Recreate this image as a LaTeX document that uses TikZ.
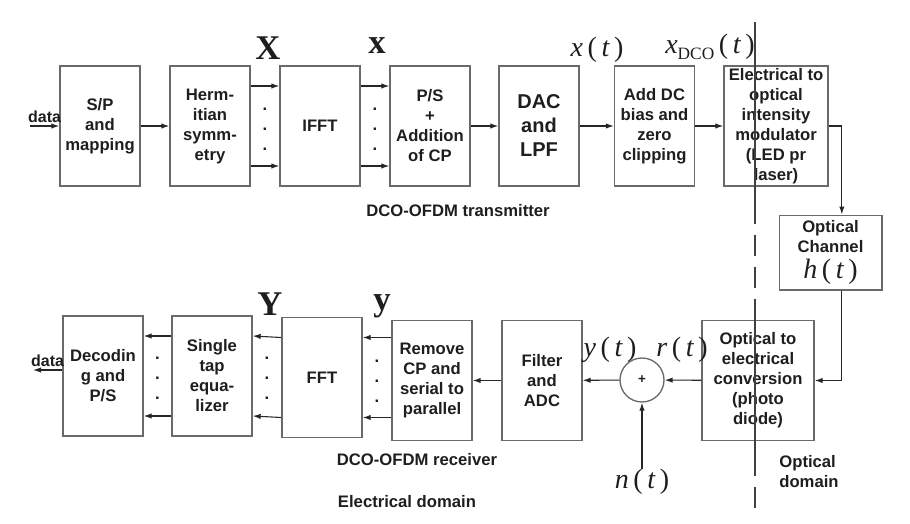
\documentclass[tikz,border=0pt]{standalone}
\usepackage{fontspec}
\setmainfont{Liberation Sans}
\newfontfamily\tnr{Liberation Serif}
\usepackage{tikz}
\usetikzlibrary{positioning,arrows.meta,calc}
\definecolor{borde}{HTML}{6A6A6A}
\definecolor{tinta}{HTML}{1E1E1E}
\newcommand{\sig}[1]{{\itshape #1}\,(\,{\itshape t}\,)}

\begin{document}
\begin{tikzpicture}[
  x=0.75pt, y=-0.75pt,
  text=tinta,
  font=\fontsize{12.5}{15}\selectfont\bfseries,
  blk/.style={draw=borde, line width=1pt, align=center, inner sep=0pt,
              minimum width=60pt, minimum height=90pt},
  arr/.style={-{Latex[length=6pt,width=4pt]}, line width=0.8pt, draw=black!85},
  vec/.style={font=\tnr\bfseries\fontsize{26}{26}\selectfont, inner sep=0pt},
  sigl/.style={font=\tnr\fontsize{21}{21}\selectfont, inner sep=0pt},
  pts/.style={align=center, inner sep=0pt},
  bound/.style={line width=1.2pt, draw=black!75},
  cut/.style={bound, dash pattern=on 16pt off 8pt}
]
  \useasboundingbox (0,0) rectangle (910,524);

  % --- transmitter
  \node[blk] (sp) at (100,126) {S/P\\and\\mapping};
  \node[blk] (herm) at (210,126) {Herm-\\itian\\symm-\\etry};
  \node[blk] (ifft) at (320,126) {IFFT};
  \node[blk] (ps) at (430,126) {P/S\\+\\Addition\\of CP};
  \node[blk, font=\fontsize{15}{18}\selectfont\bfseries] (dac) at (539,126) {DAC\\and\\LPF};
  \node[blk] (dcb) at (654.5,126) {Add DC\\bias and\\zero\\clipping};
  \node[blk, minimum width=78pt] (eo) at (776,126)
        {Electrical to\\optical\\intensity\\modulator\\(LED pr\\laser)};
  \node (txcap) at (458,211) {DCO-OFDM transmitter};

  \coordinate (din) at (30,126);
  \draw[arr] (din) -- (sp.west) node[midway, above=-1pt, font=\fontsize{12}{14}\selectfont\bfseries] {data};
  \draw[arr] (sp) -- (herm);
  \draw[arr] ([yshift=30pt]herm.east) -- ([yshift=30pt]ifft.west);
  \draw[arr] ([yshift=-30pt]herm.east) -- ([yshift=-30pt]ifft.west);
  \node[pts] (dots1) at ($(herm.east)!0.5!(ifft.west)+(0,3)$) {.\\.\\.};
  \draw[arr] ([yshift=30pt]ifft.east) -- ([yshift=30pt]ps.west);
  \draw[arr] ([yshift=-30pt]ifft.east) -- ([yshift=-30pt]ps.west);
  \node[pts] (dots2) at ($(ifft.east)!0.5!(ps.west)+(0,3)$) {.\\.\\.};
  \draw[arr] (ps) -- (dac);
  \draw[arr] (dac) -- (dcb);
  \draw[arr] (dcb) -- (eo);

  % signal labels (tx)
  \node[vec] (X) at (268,48) {X};
  \node[vec] (xv) at (377,46) {x};
  \node[sigl] (xt) at (597,50) {\sig{x}};
  \node[sigl] (xdco) at (710,47)
        {{\itshape x}\raisebox{-5pt}{\fontsize{13}{13}\selectfont DCO}\,(\,{\itshape t}\,)};

  % --- optical channel
  \node[blk, minimum width=77pt, minimum height=56pt] (chan) at (830.5,252.5)
        {Optical\\Channel\\[4pt]{\tnr\mdseries\fontsize{21}{21}\selectfont\sig{h}}};
  \draw[arr] (eo.east) -| ([xshift=8.5pt]chan.north);

  % --- receiver
  \node[blk] (dec) at (103,376) {Decodin\\g and\\P/S};
  \node[blk] (eq) at (212,376) {Single\\tap\\equa-\\lizer};
  \node[blk] (fft) at (322,377.5) {FFT};
  \node[blk] (rcp) at (432,380.5) {Remove\\CP and\\serial to\\parallel};
  \node[blk] (filt) at (542,380.5) {Filter\\and\\ADC};
  \node[draw=borde, line width=1pt, circle, minimum size=33pt, inner sep=0pt,
        font=\fontsize{10}{10}\selectfont\bfseries] (sum) at (642,380) {+};
  \node[blk, minimum width=84pt] (oe) at (758,380.5)
        {Optical to\\electrical\\conversion\\(photo\\diode)};
  \node (rxcap) at (417,460) {DCO-OFDM receiver};

  \draw[arr] ([xshift=8.5pt]chan.south) |- (oe.east);
  \draw[arr] (oe) -- (sum);
  \draw[arr] (sum) -- (filt);
  \draw[arr] (filt) -- (rcp);
  \draw[arr] ([yshift=30pt]fft.east -| rcp.west) -- ([yshift=30pt]fft.east);
  \draw[arr] ([yshift=-30pt]fft.east -| rcp.west) -- ([yshift=-30pt]fft.east);
  \node[pts] (dots3) at ($(fft.east)!0.5!(rcp.west)+(0,2)$) {.\\.\\.};
  \draw[arr] ([yshift=30pt]fft.west) -- ([yshift=30pt]eq.east);
  \draw[arr] ([yshift=-30pt]fft.west) -- ([yshift=-30pt]eq.east);
  \node[pts] (dots4) at ($(eq.east)!0.5!(fft.west)+(0,2)$) {.\\.\\.};
  \draw[arr] ([yshift=30pt]eq.west) -- ([yshift=30pt]dec.east);
  \draw[arr] ([yshift=-30pt]eq.west) -- ([yshift=-30pt]dec.east);
  \node[pts] (dots5) at ($(dec.east)!0.5!(eq.west)+(0,2)$) {.\\.\\.};
  \coordinate (dout) at (33,370);
  \draw[arr] (dec.west |- dout) -- (dout) node[midway, above=-1pt, font=\fontsize{12}{14}\selectfont\bfseries] {data};

  % signal labels (rx)
  \node[vec] (Y) at (270,304) {Y};
  \node[vec] (yv) at (382,306) {y};
  \node[sigl] (yt) at (610,350) {\sig{y}};
  \node[sigl] (rt) at (682,350) {\sig{r}};
  \node[sigl] (nt) at (642,482) {\sig{n}};
  \draw[arr] (nt) -- (sum);

  % --- domains
  \node (eldom) at (407,502) {Electrical domain};
  \node[align=left] (opdom) at (809,472) {Optical\\domain};
  \coordinate (b0) at (755,22);
  \coordinate (b1) at (755,203);
  \coordinate (b2) at (755,312);
  \coordinate (b3) at (755,455);
  \coordinate (b4) at (755,510);
  \draw[bound] (b0) -- (b1);
  \draw[cut] (b1) -- (b2);
  \draw[bound] (b2) -- (b3);
  \draw[cut] (b3) -- (b4);
\end{tikzpicture}
\end{document}
